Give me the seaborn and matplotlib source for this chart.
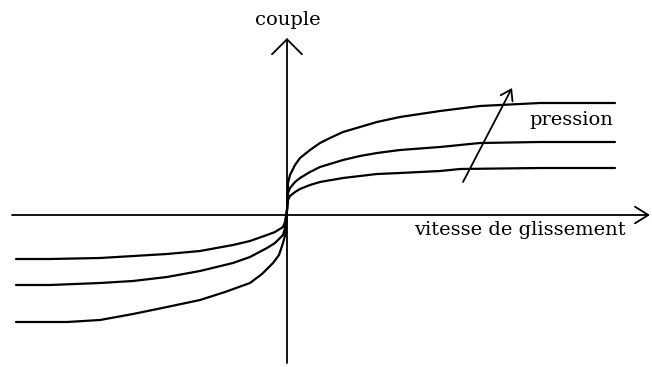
import numpy as np
import pandas as pd
import matplotlib
matplotlib.use("Agg")
import matplotlib.pyplot as plt
import seaborn as sns

# slip speed / torque (arbitrary units), one curve per pressure
pression_levels = ["faible", "moyenne", "forte"]

vitesse_p1 = [-2.71, -2.37, -1.87, -1.20, -0.87, -0.54, -0.37, -0.20, -0.12, -0.04, -0.02, 0.00, 0.01,
              0.03, 0.08, 0.13, 0.23, 0.33, 0.56, 0.73, 0.90, 1.13, 1.53, 1.73, 2.53, 3.28]
couple_p1 = [-0.44, -0.44, -0.43, -0.39, -0.36, -0.30, -0.26, -0.20, -0.17, -0.12, -0.07, 0.05, 0.15,
             0.19, 0.23, 0.26, 0.30, 0.33, 0.37, 0.39, 0.41, 0.42, 0.44, 0.46, 0.47, 0.47]

vitesse_p2 = [-2.71, -2.37, -1.87, -1.54, -1.20, -0.87, -0.54, -0.37, -0.20, -0.12, -0.04, -0.02, 0.00, 0.01,
              0.03, 0.08, 0.13, 0.23, 0.33, 0.56, 0.73, 0.90, 1.13, 1.53, 1.93, 2.53, 3.28]
couple_p2 = [-0.70, -0.70, -0.68, -0.66, -0.62, -0.56, -0.48, -0.42, -0.33, -0.28, -0.20, -0.13, 0.05, 0.22,
             0.27, 0.33, 0.37, 0.43, 0.48, 0.55, 0.59, 0.62, 0.65, 0.68, 0.72, 0.73, 0.73]

vitesse_p3 = [-2.71, -2.20, -1.87, -1.54, -1.20, -0.87, -0.62, -0.37, -0.25, -0.14, -0.08, -0.04, -0.01, 0.00,
              0.01, 0.03, 0.08, 0.13, 0.23, 0.33, 0.43, 0.56, 0.73, 0.90, 1.13, 1.53, 1.93, 2.53, 3.28]
couple_p3 = [-1.07, -1.07, -1.05, -0.99, -0.92, -0.85, -0.77, -0.68, -0.59, -0.48, -0.40, -0.28, -0.17, 0.05,
             0.32, 0.40, 0.50, 0.57, 0.65, 0.72, 0.77, 0.83, 0.88, 0.93, 0.98, 1.04, 1.09, 1.12, 1.12]


def main():
    frames = []
    for name, vx, cy in zip(pression_levels,
                            [vitesse_p1, vitesse_p2, vitesse_p3],
                            [couple_p1, couple_p2, couple_p3]):
        frames.append(pd.DataFrame({"vitesse": vx, "couple": cy, "pression": name}))
    df = pd.concat(frames, ignore_index=True)

    sns.set_theme(style="white")
    plt.rcParams["font.family"] = ["DejaVu Serif", "DejaVu Sans"]
    plt.rcParams["text.color"] = "black"

    fig = plt.figure(figsize=(6.52, 3.67), dpi=100)
    ax = fig.add_axes([0, 0, 1, 1])
    ax.set_xlim(-2.87, 3.65)
    ax.set_ylim(-1.52, 2.15)
    ax.set_axis_off()

    sns.lineplot(data=df, x="vitesse", y="couple", hue="pression",
                 palette=["black"] * 3, sort=False, estimator=None,
                 legend=False, linewidth=1.6, ax=ax)
    for line in ax.lines:
        line.set_solid_joinstyle("round")
        line.set_solid_capstyle("round")

    # axes drawn as open arrows
    ax.annotate("", xy=(3.63, 0), xytext=(-2.75, 0),
                arrowprops=dict(arrowstyle="->,head_length=0.8,head_width=0.5",
                                color="black", lw=1.3, shrinkA=0, shrinkB=0))
    ax.annotate("", xy=(0, 1.77), xytext=(0, -1.48),
                arrowprops=dict(arrowstyle="->,head_length=0.9,head_width=0.9",
                                color="black", lw=1.3, shrinkA=0, shrinkB=0))
    # pressure direction
    ax.annotate("", xy=(2.25, 1.27), xytext=(1.76, 0.33),
                arrowprops=dict(arrowstyle="->,head_length=0.6,head_width=0.4",
                                color="black", lw=1.3, shrinkA=0, shrinkB=0))

    ax.text(0.01, 1.95, "couple", ha="center", va="center", fontsize=14, color="black")
    ax.text(3.26, 0.95, "pression", ha="right", va="center", fontsize=14, color="black")
    ax.text(2.33, -0.15, "vitesse de glissement", ha="center", va="center", fontsize=14, color="black")

    fig.savefig("out.png", dpi=100)
    plt.close(fig)


if __name__ == "__main__":
    main()
